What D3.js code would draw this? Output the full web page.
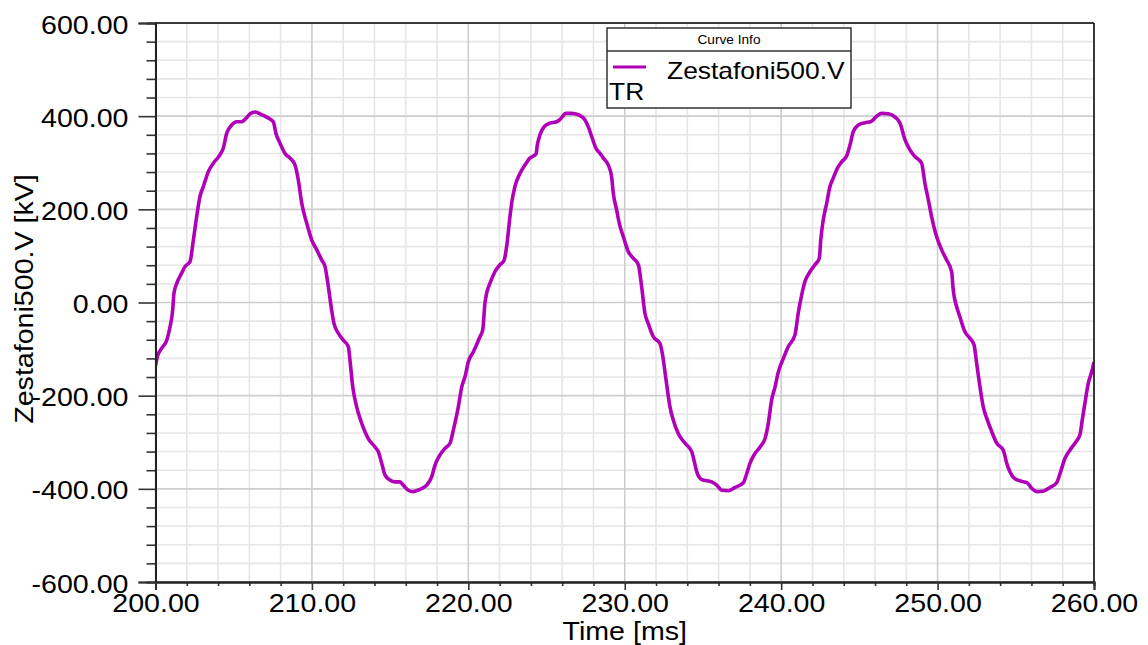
<!DOCTYPE html>
<html>
<head>
<meta charset="utf-8">
<script src="https://cdn.jsdelivr.net/npm/d3@7"></script>
<style>
  html, body { margin: 0; padding: 0; background: #ffffff; }
  svg { display: block; }
  text { font-family: "Liberation Sans", Arial, sans-serif; fill: #000; }
</style>
</head>
<body>
<svg id="chart" width="1148" height="645"></svg>
<script>
// Bus voltage samples [time ms, kV], one array per 20 ms cycle
const firstCycle = [[200.00,-136],[200.12,-116],[200.40,-98],[200.72,-81],[200.93,-52],[201.10,-16],[201.18,20],[201.36,41],[201.67,63],[201.89,77],[202.21,88],[202.42,134],[202.63,184],[202.84,227],[203.06,249],[203.38,281],[203.70,299],[204.12,317],[204.33,331],[204.55,363],[204.87,381],[205.19,388],[205.51,388],[205.72,393],[206.04,405],[206.36,409],[206.68,405],[207.11,398],[207.53,388],[207.70,363],[207.96,342],[208.28,320],[208.60,310],[208.92,295],[209.13,263],[209.35,213],[209.67,170],[209.99,134],[210.31,113],[210.63,91],[210.84,77],[211.05,34],[211.26,-16],[211.41,-45],[211.69,-66],[212.01,-81],[212.33,-95],[212.43,-123],[212.61,-181],[212.86,-224],[213.18,-259],[213.60,-292],[214.03,-310],[214.24,-320],[214.46,-345],[214.67,-370],[214.99,-381],[215.31,-385],[215.63,-385],[215.84,-392],[216.16,-403],[216.48,-406],[216.91,-401],[217.34,-392],[217.66,-374],[217.87,-349],[218.19,-327],[218.51,-313],[218.83,-302],[219.04,-274],[219.36,-224],[219.58,-181],[219.79,-159],[220.00,-127],[220.32,-106],[220.75,-73]];
const secondCycle = [[220.92,-59],[221.06,-2],[221.17,20],[221.38,41],[221.70,66],[222.02,81],[222.28,90],[222.45,120],[222.66,184],[222.77,213],[222.98,249],[223.30,277],[223.62,295],[223.94,310],[224.33,319],[224.41,338],[224.58,360],[224.84,377],[225.22,385],[225.65,388],[225.86,393],[226.24,406],[226.61,406],[227.03,403],[227.46,392],[227.67,377],[227.89,356],[228.16,331],[228.42,320],[228.63,310],[228.95,295],[229.16,270],[229.27,234],[229.48,199],[229.65,170],[229.91,141],[230.23,109],[230.55,95],[230.87,81],[231.08,34],[231.29,-23],[231.50,-45],[231.82,-73],[232.25,-88],[232.40,-109],[232.64,-166],[232.89,-224],[233.10,-252],[233.42,-281],[233.85,-302],[234.28,-320],[234.45,-342],[234.60,-363],[234.92,-380],[235.56,-385],[235.88,-392],[236.20,-403],[236.62,-404],[237.05,-397],[237.58,-387],[237.80,-367],[238.01,-345],[238.33,-324],[238.65,-310],[238.97,-292],[239.18,-259],[239.39,-209],[239.61,-181],[239.82,-149],[240.14,-120],[240.45,-95],[240.88,-70]];
const thirdCycle = [[241.09,-23],[241.31,16],[241.52,45],[241.84,66],[242.16,81],[242.44,95],[242.53,134],[242.69,177],[242.91,213],[243.12,249],[243.33,267],[243.59,288],[243.87,302],[244.19,315],[244.40,338],[244.61,367],[244.93,381],[245.36,386],[245.72,388],[246.11,400],[246.43,406],[246.85,405],[247.28,398],[247.60,385],[247.92,349],[248.24,327],[248.56,313],[248.98,299],[249.19,256],[249.41,220],[249.62,184],[249.94,141],[250.26,113],[250.58,91],[250.90,66],[251.00,27],[251.22,-9],[251.43,-31],[251.75,-63],[252.07,-77],[252.33,-91],[252.50,-131],[252.71,-181],[252.92,-224],[253.18,-252],[253.46,-277],[253.78,-302],[254.20,-317],[254.42,-345],[254.84,-375],[255.27,-383],[255.73,-387],[256.02,-399],[256.34,-406],[256.76,-405],[257.19,-397],[257.61,-387],[257.83,-367],[258.14,-335],[258.46,-317],[258.78,-302],[259.10,-284],[259.25,-252],[259.42,-216],[259.63,-174],[259.85,-149],[260.00,-128]];

const xMajorTicks = [200, 210, 220, 230, 240, 250, 260];
const xMinorTicks = [202, 204, 206, 208, 212, 214, 216, 218, 222, 224, 226, 228, 232, 234, 236, 238, 242, 244, 246, 248, 252, 254, 256, 258];
const yMajorTicks = [-600, -400, -200, 0, 200, 400, 600];
const yMinorTicks = [-560, -520, -480, -440, -360, -320, -280, -240, -160, -120, -80, -40, 40, 80, 120, 160, 240, 280, 320, 360, 440, 480, 520, 560];

const xTitle = "Time [ms]";
const yTitle = "Zestafoni500.V [kV]";
const legendTitle = "Curve Info";
const seriesName = "Zestafoni500.V";
const seriesTag = "TR";
const seriesColor = "#b000b8";

const waveform = firstCycle.concat(secondCycle, thirdCycle);

const svg = d3.select("#chart");
const plot = { left: 155.5, right: 1094, top: 23, bottom: 582 };

const x = d3.scaleLinear().domain([200, 260]).range([plot.left, plot.right]);
const y = d3.scaleLinear().domain([-600, 600]).range([plot.bottom, plot.top]);

// stretch glyphs horizontally a little, like the plotting tool's wide font
function widen(sel, k) {
  sel.each(function () {
    const w = this.getComputedTextLength();
    d3.select(this).attr("textLength", w * k).attr("lengthAdjust", "spacingAndGlyphs");
  });
}

// grid
const grid = svg.append("g");
grid.selectAll(".vminor").data(xMinorTicks).join("line")
  .attr("x1", d => x(d)).attr("x2", d => x(d))
  .attr("y1", plot.top).attr("y2", plot.bottom)
  .attr("stroke", "#e6e6e6").attr("stroke-width", 1.6);
grid.selectAll(".hminor").data(yMinorTicks).join("line")
  .attr("x1", plot.left).attr("x2", plot.right)
  .attr("y1", d => y(d)).attr("y2", d => y(d))
  .attr("stroke", "#e6e6e6").attr("stroke-width", 1.6);
grid.selectAll(".vmajor").data(xMajorTicks).join("line")
  .attr("x1", d => x(d)).attr("x2", d => x(d))
  .attr("y1", plot.top).attr("y2", plot.bottom)
  .attr("stroke", "#cdcdcd").attr("stroke-width", 1.6);
grid.selectAll(".hmajor").data(yMajorTicks).join("line")
  .attr("x1", plot.left).attr("x2", plot.right)
  .attr("y1", d => y(d)).attr("y2", d => y(d))
  .attr("stroke", "#cdcdcd").attr("stroke-width", 1.6);

// waveform
svg.append("clipPath").attr("id", "plotClip").append("rect")
  .attr("x", plot.left).attr("y", plot.top)
  .attr("width", plot.right - plot.left).attr("height", plot.bottom - plot.top);

const line = d3.line().x(d => x(d[0])).y(d => y(d[1])).curve(d3.curveMonotoneX);
svg.append("path")
  .datum(waveform)
  .attr("clip-path", "url(#plotClip)")
  .attr("fill", "none")
  .attr("stroke", seriesColor)
  .attr("stroke-width", 3.6)
  .attr("stroke-linejoin", "round")
  .attr("d", line);

// frame
svg.append("line").attr("x1", plot.left).attr("x2", plot.right).attr("y1", plot.top).attr("y2", plot.top)
  .attr("stroke", "#3a3a3a").attr("stroke-width", 2);
svg.append("line").attr("x1", plot.right).attr("x2", plot.right).attr("y1", plot.top).attr("y2", plot.bottom)
  .attr("stroke", "#111").attr("stroke-width", 1.6);

// axes
const yMinorAxis = svg.append("g").attr("transform", `translate(${plot.left},0)`)
  .call(d3.axisLeft(y).tickValues(yMinorTicks).tickSize(9).tickFormat(""));
const yAxis = svg.append("g").attr("transform", `translate(${plot.left},0)`)
  .call(d3.axisLeft(y).tickValues(yMajorTicks).tickSize(17).tickPadding(10).tickFormat(d => d.toFixed(2)));
const xMinorAxis = svg.append("g").attr("transform", `translate(0,${plot.bottom})`)
  .call(d3.axisBottom(x).tickValues(xMinorTicks).tickSize(4).tickFormat(""));
const xAxis = svg.append("g").attr("transform", `translate(0,${plot.bottom})`)
  .call(d3.axisBottom(x).tickValues(xMajorTicks).tickSize(8).tickPadding(4).tickFormat(d => d.toFixed(2)));

[yMinorAxis, yAxis, xMinorAxis, xAxis].forEach(g => {
  g.select(".domain").attr("stroke", "#222").attr("stroke-width", 2);
  g.selectAll(".tick line").attr("stroke", "#333").attr("stroke-width", 1.6);
});
[yAxis, xAxis].forEach(g => {
  g.selectAll("text").attr("font-size", 26).attr("fill", "#000")
    .style("font-family", "'Liberation Sans', Arial, sans-serif");
});
yAxis.selectAll("text").attr("dy", "0.39em");
xAxis.selectAll("text").attr("dy", "0.71em");
widen(yAxis.selectAll("text"), 1.1);
widen(xAxis.selectAll("text"), 1.1);

// axis titles
const xt = svg.append("text")
  .attr("x", (plot.left + plot.right) / 2).attr("y", 640)
  .attr("text-anchor", "middle").attr("font-size", 26)
  .text(xTitle);
widen(xt, 1.1);

const yt = svg.append("text")
  .attr("transform", "translate(32.5,299) rotate(-90)")
  .attr("text-anchor", "middle").attr("font-size", 26)
  .text(yTitle);
widen(yt, 1.1);

// legend box
const lg = svg.append("g");
lg.append("rect").attr("x", 607).attr("y", 28).attr("width", 244).attr("height", 80)
  .attr("fill", "#fff").attr("stroke", "#333").attr("stroke-width", 1.5);
lg.append("line").attr("x1", 607).attr("x2", 851).attr("y1", 51).attr("y2", 51)
  .attr("stroke", "#333").attr("stroke-width", 1.5);
const lt = lg.append("text").attr("x", 729).attr("y", 44).attr("text-anchor", "middle")
  .attr("font-size", 13).text(legendTitle);
widen(lt, 1.05);
lg.append("line").attr("x1", 613).attr("x2", 646).attr("y1", 67).attr("y2", 67)
  .attr("stroke", seriesColor).attr("stroke-width", 3);
const ln = lg.append("text").attr("x", 667).attr("y", 78.5).attr("font-size", 24).text(seriesName);
widen(ln, 1.1);
const tr = lg.append("text").attr("x", 609).attr("y", 100).attr("font-size", 24).text(seriesTag);
widen(tr, 1.1);
</script>
</body>
</html>
